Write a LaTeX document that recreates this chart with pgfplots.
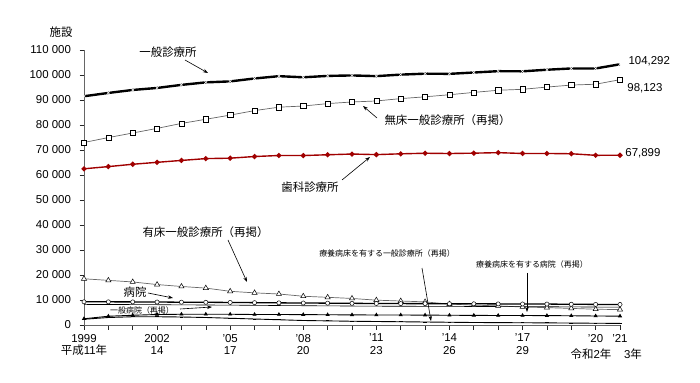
\documentclass[border=0pt]{standalone}
\usepackage{pgfplots}
\usepackage{pgfplotstable}
\pgfplotsset{compat=1.18}
\usetikzlibrary{arrows.meta}
\usepackage{fontspec}
\setmainfont{Liberation Sans}
\newfontfamily\cjk{Noto Sans CJK JP}
\definecolor{dred}{RGB}{160,0,0}

\pgfplotstableread{
year gen nobed dental withbed hosp genhosp ltchosp ltcclinic
1999 91500 73013 62484 18487 9286 8222 2500 2300
2000 92824 74971 63361 17853 9266 8205 3500 3000
2001 94019 76801 64297 17218 9239 8177 3900 3300
2002 94819 78641 65073 16178 9187 8121 4200 3300
2003 96050 80642 65828 15408 9122 8051 4300 3200
2004 97051 82286 66557 14765 9077 7998 4300 3000
2005 97442 83965 66732 13477 9026 7952 4300 2700
2006 98609 85751 67392 12858 8943 7866 4200 2400
2007 99532 87133 67798 12399 8862 7785 4200 2100
2008 99083 87583 67779 11500 8794 7714 4150 1800
2009 99635 88563 68097 11072 8739 7655 4100 1650
2010 99824 89204 68384 10620 8670 7587 4050 1500
2011 99547 89613 68156 9934 8605 7528 4000 1400
2012 100152 90556 68474 9596 8565 7493 4000 1300
2013 100528 91279 68701 9249 8540 7474 3950 1200
2014 100461 92106 68592 8355 8493 7426 3900 1100
2015 100995 93034 68737 7961 8480 7416 3850 1000
2016 101529 93900 68940 7629 8442 7380 3800 950
2017 101471 94269 68609 7202 8412 7353 3800 900
2018 102105 95171 68613 6934 8372 7314 3750 850
2019 102616 95972 68500 6644 8300 7246 3700 780
2020 102612 96309 67874 6303 8238 7179 3600 700
2021 104292 98123 67899 6169 8205 7152 3550 650
}\data

\begin{document}
\begin{tikzpicture}[font=\fontsize{11.5}{13}\selectfont]
\useasboundingbox (-84bp,-58bp) rectangle (616bp,325bp);
\begin{axis}[
  at={(0,0)}, anchor=south west,
  scale only axis, width=536bp, height=275bp,
  xmin=1999, xmax=2021, ymin=0, ymax=110000,
  axis x line=bottom, axis y line=left,
  axis line style={-, gray!80!black, line width=0.8pt},
  tick align=outside, tick style={gray!30!black, line width=0.6pt},
  major tick length=4.5bp,
  clip=false,
  scaled y ticks=false,
  xtick={1999,...,2021},
  xticklabels={{1999\\{\cjk 平成}11{\cjk 年}},,,{2002\\14},,,{'05\\17},,,{'08\\20},,,{'11\\23},,,{'14\\26},,,{'17\\29},,,{'20},{'21}},
  xticklabel style={align=center, font=\fontsize{11.5}{13}\selectfont, anchor=north, yshift=-1bp},
  ytick={0,10000,...,110000},
  yticklabels={0,10 000,20 000,30 000,40 000,50 000,60 000,70 000,80 000,90 000,100 000,110 000},
  yticklabel style={font=\fontsize{11.5}{13}\selectfont, xshift=-5bp},
]
\addplot[black, line width=2.4pt, mark=x, mark size=2.2, mark options={white, line width=0.5pt}] table[x=year,y=gen]{\data};
\addplot[gray!80!black, line width=0.7pt, mark=square*, mark size=2.6, mark options={fill=white, draw=black, line width=0.5pt}] table[x=year,y=nobed]{\data};
\addplot[dred, line width=1.4pt, mark=*, mark size=1.8, mark options={fill=dred, draw=dred}] table[x=year,y=dental]{\data};
\addplot[gray!80!black, line width=0.7pt, mark=triangle*, mark size=3, mark options={fill=white, draw=black, line width=0.5pt}] table[x=year,y=withbed]{\data};
\addplot[black, line width=0.6pt] table[x=year,y=genhosp]{\data};
\addplot[black, line width=1.3pt, mark=*, mark size=2.1, mark options={fill=white, draw=black, line width=0.5pt}] table[x=year,y=hosp]{\data};
\addplot[black, line width=0.9pt, mark=triangle*, mark size=1.6, mark options={fill=black}] table[x=year,y=ltchosp]{\data};
\addplot[black, line width=0.9pt, mark=-, mark size=1.8] table[x=year,y=ltcclinic]{\data};
\end{axis}
% annotations (bp, origin at axis lower-left)
\node at (-23bp,293bp) {\cjk 施設};
\node at (84bp,273bp) {\cjk 一般診療所};
\draw[-{Stealth[length=5bp,width=3.5bp]}, line width=0.6pt] (101bp,265bp) -- (124bp,252bp);
\node[anchor=west] at (297bp,205bp) {\cjk 無床一般診療所（再掲）};
\draw[-{Stealth[length=5bp,width=3.5bp]}, line width=0.6pt] (293bp,207bp) -- (279bp,219bp);
\node at (226bp,138bp) {\cjk 歯科診療所};
\draw[-{Stealth[length=5bp,width=3.5bp]}, line width=0.6pt] (258bp,145bp) -- (286bp,168bp);
\node[anchor=west] at (55bp,93bp) {\cjk 有床一般診療所（再掲）};
\draw[-{Stealth[length=5bp,width=3.5bp]}, line width=0.6pt] (144bp,85bp) -- (163bp,43bp);
\node at (51bp,33bp) {\cjk 病院};
\draw[-{Stealth[length=5bp,width=3.5bp]}, line width=0.6pt] (64bp,32bp) -- (89bp,27bp);
\node[font=\fontsize{8}{9}\selectfont] at (58bp,15bp) {\cjk 一般病院（再掲）};
\draw[-{Stealth[length=5bp,width=3.5bp]}, line width=0.6pt] (96bp,16bp) -- (128bp,18bp);
\node[font=\fontsize{8}{9}\selectfont] at (303bp,72bp) {\cjk 療養病床を有する一般診療所（再掲）};
\draw[-{Stealth[length=5bp,width=3.5bp]}, line width=0.6pt] (338bp,57bp) -- (347bp,4bp);
\node[font=\fontsize{8}{9}\selectfont] at (448bp,61bp) {\cjk 療養病床を有する病院（再掲）};
\draw[-{Stealth[length=5bp,width=3.5bp]}, line width=0.6pt] (443bp,52bp) -- (443bp,13bp);
\node[anchor=west] at (541bp,264bp) {104,292};
\node[anchor=east] at (582bp,237bp) {98,123};
\node[anchor=east] at (580bp,172bp) {67,899};
\node at (507bp,-29bp) {{\cjk 令和}2{\cjk 年}};
\node at (549bp,-29bp) {3{\cjk 年}};
\end{tikzpicture}
\end{document}
